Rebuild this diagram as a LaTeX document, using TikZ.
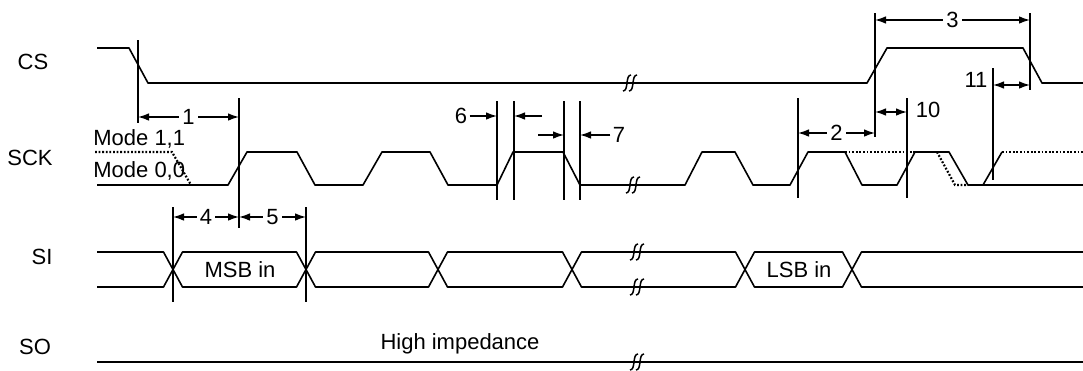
\documentclass[tikz,border=0pt]{standalone}
\usepackage{fontspec}
\setmainfont{Liberation Sans}
\usetikzlibrary{arrows.meta}
\usetikzlibrary{calc}

% break mark on a signal line
\newcommand{\brkmark}[2]{%
  \begin{scope}[shift={(#1,#2)}]
    \draw[line width=0.75pt] (-9,8) .. controls (-3,8) and (-7,-8) .. (-1,-8);
    \draw[line width=0.75pt] (-3,8) .. controls (3,8) and (-1,-8) .. (5,-8);
  \end{scope}}

\begin{document}
\begin{tikzpicture}[x=0.5pt,y=-0.5pt,
    sig/.style={line width=0.8pt,line join=round},
    alt/.style={line width=1.1pt,dash pattern=on 0.9pt off 0.9pt},
    vline/.style={line width=0.7pt},
    dim/.style={line width=0.7pt,{Latex[length=5.5pt,width=3.8pt]}-{Latex[length=5.5pt,width=3.8pt]}},
    ptr/.style={line width=0.7pt,-{Latex[length=5.5pt,width=3.8pt]}},
    lbl/.style={font=\fontsize{11}{13}\selectfont,inner sep=1pt},
    num/.style={font=\fontsize{11}{13}\selectfont,fill=white,inner sep=1.5pt}]

\useasboundingbox (0,0) rectangle (1083,370);

% signal names
\node[lbl] (cs) at (33,62) {CS};
\node[lbl] (sck) at (30,158) {SCK};
\node[lbl] (si) at (42,257) {SI};
\node[lbl] (so) at (35,347) {SO};
\node[lbl,anchor=west] (m11) at (91,139) {Mode 1,1};
\node[lbl,anchor=west] (m00) at (91,171) {Mode 0,0};

% CS
\draw[sig] (97,48) -- (129,48) -- (148,83) -- (867,83) -- (887,48) -- (1023,48) -- (1042,83) -- (1083,83);
\brkmark{632}{83}

% SCK
\draw[sig] (97,185) -- (228,185) -- (247,152) -- (297,152) -- (315,185) -- (363,185) -- (382,152) -- (430,152) -- (448,185)
  -- (497,185) -- (513,152) -- (563,152) -- (580,185) -- (685,185) -- (702,152) -- (735,152) -- (753,185) -- (790,185)
  -- (808,152) -- (845,152) -- (862,185) -- (897,185) -- (915,152) -- (949,152) -- (968,185) -- (1083,185);
\draw[sig] (983,185) -- (1002,152);
\draw[alt] (95,152) -- (172,152) -- (191,185);
\draw[alt] (845,152) -- (915,152);
\draw[alt] (937,152) -- (955,185) -- (968,185);
\draw[alt] (1002,152) -- (1083,152);
\brkmark{635}{185}

% SI
\draw[sig] (97,252) -- (163.5,252) -- (182.5,287) -- (296.5,287) -- (315.5,252) -- (428.5,252) -- (447.5,287) -- (562.5,287)
  -- (581.5,252) -- (735.5,252) -- (754.5,287) -- (842.5,287) -- (861.5,252) -- (1083,252);
\draw[sig] (97,287) -- (163.5,287) -- (182.5,252) -- (296.5,252) -- (315.5,287) -- (428.5,287) -- (447.5,252) -- (562.5,252)
  -- (581.5,287) -- (735.5,287) -- (754.5,252) -- (842.5,252) -- (861.5,287) -- (1083,287);
\brkmark{639}{252}
\brkmark{639}{287}
\node[lbl] (msb) at (240,270) {MSB in};
\node[lbl] (lsb) at (799,270) {LSB in};

% SO
\draw[sig] (97,362) -- (1083,362);
\brkmark{639}{362}
\node[lbl] (hiz) at (460,344) {High impedance};

% timing marks
\draw[vline] (138,40) -- (138,123);
\draw[vline] (239,98) -- (239,228);
\draw[vline] (173,207) -- (173,302);
\draw[vline] (306,207) -- (306,302);
\foreach \x in {497,514,564,580}
  \draw[vline] (\x,101) -- (\x,200);
\draw[vline] (798,98) -- (798,198);
\draw[vline] (875,13) -- (875,137);
\draw[vline] (907,98) -- (907,198);
\draw[vline] (1030,13) -- (1030,90);
\draw[vline] (993,68) -- (993,180);

\coordinate (a1) at (138,117);  \coordinate (b1) at (239,117);
\coordinate (a2) at (798,133);  \coordinate (b2) at (875,133);
\coordinate (a3) at (875,20);   \coordinate (b3) at (1030,20);
\coordinate (a4) at (173,217);  \coordinate (b4) at (239,217);
\coordinate (b5) at (306,217);
\coordinate (a10) at (875,112); \coordinate (b10) at (907,112);
\coordinate (a11) at (993,85);  \coordinate (b11) at (1030,85);

\draw[dim] (a1) -- (b1) node[num,midway] {1};
\draw[dim] (a2) -- (b2) node[num,midway] {2};
\draw[dim] (a3) -- (b3) node[num,midway] {3};
\draw[dim] (a4) -- (b4) node[num,midway] {4};
\draw[dim] (b4) -- (b5) node[num,midway] {5};
\draw[dim] (a10) -- (b10);
\node[lbl] (t10) at (928,110) {10};
\draw[dim] (a11) -- (b11);
\node[lbl] (t11) at (976,80) {11};

\node[lbl] (t6) at (461,116) {6};
\draw[ptr] (t6.east) -- (497,116);
\coordinate (p6) at (542,116);
\draw[ptr] (p6) -- (514,116);
\coordinate (p7) at (538,135);
\draw[ptr] (p7) -- (564,135);
\node[lbl] (t7) at (619,135) {7};
\draw[ptr] (t7.west) -- (580,135);

\end{tikzpicture}
\end{document}
